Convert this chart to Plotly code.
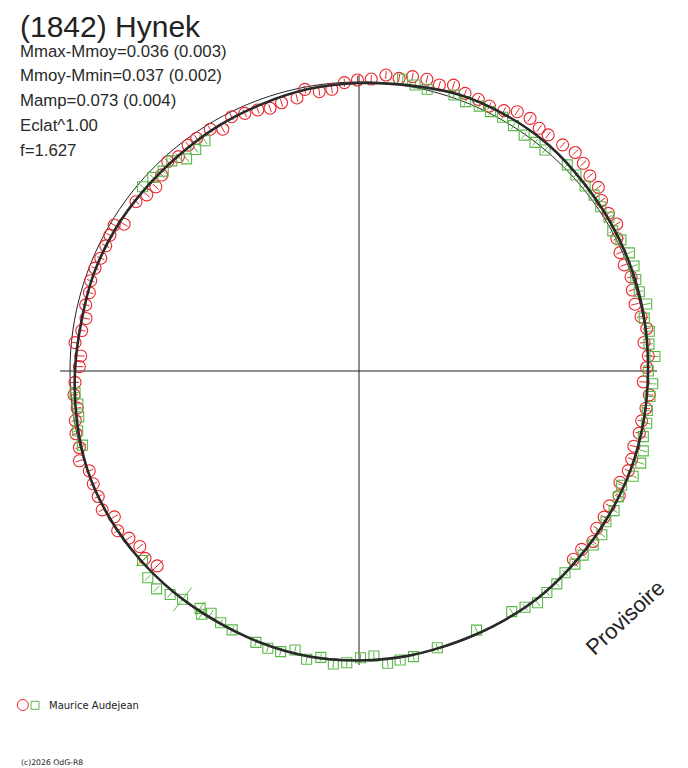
import plotly.graph_objects as go

# ---------------- data (phase in degrees clockwise from top, radius in plot units) ----------------
red_phase = [2.4, 5.2, 7.8, 10.3, 13.1, 15.7, 18.3, 20.9, 23.7, 26.2, 29.1, 31.4, 34.1, 36.6, 38.7,
             42.0, 44.7, 47.2, 49.8, 52.5, 54.9, 57.7, 60.3, 62.8, 65.6, 68.2, 70.9, 73.5, 76.4, 79.1,
             81.6, 84.3, 87.0, 89.3, 92.2, 94.7, 97.4, 100.0, 102.5, 105.3, 107.9, 110.3, 113.1, 115.6,
             118.3, 120.8, 123.5, 126.1, 128.7, 131.3,
             226.0, 228.8, 231.3, 234.0, 236.5, 239.2, 241.6, 244.3, 247.0, 249.7, 252.2, 254.7, 257.5,
             260.1, 262.5, 265.2, 267.7, 270.9, 273.1, 275.7, 278.3, 280.9, 283.6, 286.2, 288.6, 291.3,
             293.6, 296.3, 298.6, 300.8, 302.0, 307.2, 309.7, 312.2, 314.8, 317.6, 319.9, 322.9, 325.1,
             328.4, 330.6, 333.4, 336.1, 338.8, 341.3, 343.9, 347.2, 349.1, 351.9, 354.5, 357.1, 359.7]
red_r = [292.2, 297.2, 295.4, 299.2, 299.5, 297.1, 301.1, 297.2, 296.7, 295.3, 298.0, 303.8, 305.1, 302.3, 302.5,
         304.3, 307.4, 305.7, 302.3, 301.7, 296.5, 295.0, 296.7, 289.9, 286.6, 285.7, 287.9, 285.1, 284.0, 287.2,
         290.9, 286.4, 289.7, 287.7, 284.5, 291.3, 289.4, 287.0, 287.1, 285.0, 286.6, 287.2, 283.7, 288.6,
         284.4, 285.4, 285.0, 289.4, 285.3, 285.3,
         280.6, 284.4, 280.8, 284.4, 289.4, 284.8, 291.9, 289.4, 288.7, 287.6, 293.7, 289.9, 289.9,
         288.0, 284.2, 286.0, 284.2, 279.7, 278.7, 285.4, 280.2, 278.0, 281.2, 280.8, 283.1, 283.3,
         281.8, 282.5, 283.7, 285.0, 277.0, 280.0, 275.8, 274.2, 278.1, 283.6, 280.3, 283.2, 283.7,
         283.9, 277.5, 284.4, 281.8, 280.0, 277.4, 279.2, 280.0, 286.8, 282.1, 283.0, 288.7, 291.0]
red_err = [4, 4, 4, 4, 4, 4, 4, 4, 4, 4, 4, 4, 4, 4, 4,
           4, 4, 4, 4, 4, 4, 4, 4, 4, 4, 4, 4, 4, 4, 4,
           4, 4, 4, 4, 4, 4, 4, 4, 4, 4, 4, 4, 4, 4,
           4, 4, 4, 4, 4, 4,
           8, 5, 4, 4, 4, 4, 4, 4, 4, 4, 4, 4, 4,
           4, 4, 4, 4, 4, 4, 4, 4, 4, 4, 4, 4, 4,
           4, 4, 4, 4, 4, 4, 4, 4, 4, 4, 4, 4, 4,
           4, 4, 4, 4, 4, 4, 4, 4, 4, 4, 4, 4, 4]

green_phase = [8.5, 11.1, 13.6, 19.0, 21.6, 24.4, 26.9, 29.5, 32.2, 35.0, 37.6, 40.1, 45.3, 47.9, 50.7,
               53.2, 55.8, 58.4, 61.1, 63.4, 66.4, 69.1, 71.7, 74.2, 76.9, 79.5, 82.2, 84.7, 87.2, 90.0,
               92.5, 95.0, 97.8, 100.3, 103.0, 105.7, 108.1, 111.0, 113.5, 115.9, 118.7, 121.4, 124.0,
               126.6, 129.4, 131.8, 134.4, 137.1, 139.7, 142.4, 144.9, 147.6, 155.6, 164.2, 169.2, 171.9,
               174.4, 177.0, 179.7, 182.4, 185.0, 187.6, 190.3, 192.9, 195.6, 198.2, 200.8, 206.1, 208.8,
               211.4, 212.9, 213.8, 217.7, 220.2, 222.9, 225.6, 228.8, 255.0, 258.0, 260.7, 263.3, 265.6,
               310.4, 313.2, 315.6, 318.3, 320.9, 323.6, 326.2]
green_r = [295.0, 291.4, 289.9, 291.9, 289.7, 290.9, 290.8, 291.6, 290.0, 288.0, 288.6, 288.9, 293.0, 292.4, 292.1,
           293.6, 292.3, 293.5, 289.9, 292.9, 295.1, 294.4, 291.5, 291.3, 295.4, 290.1, 293.0, 291.2, 296.3, 289.3,
           294.0, 292.1, 291.0, 292.4, 291.8, 295.3, 296.4, 293.7, 286.4, 288.2, 290.8, 289.3, 292.9,
           291.8, 290.1, 289.7, 288.3, 290.6, 290.5, 292.6, 288.8, 285.0, 284.5, 287.6, 290.8, 291.9,
           293.7, 285.4, 286.7, 292.0, 294.1, 288.9, 293.0, 286.2, 291.4, 291.9, 290.3, 288.3, 287.2,
           283.9, 289.7, 285.6, 288.5, 292.6, 297.4, 295.6, 287.7, 286.4, 287.6, 284.0, 283.2, 284.8,
           284.2, 282.8, 279.8, 281.4, 273.4, 275.1, 277.0]
green_err = [4, 4, 4, 4, 4, 4, 4, 4, 4, 4, 4, 4, 4, 4, 4,
             4, 4, 4, 4, 4, 4, 4, 4, 4, 4, 4, 4, 4, 4, 4,
             4, 4, 4, 4, 4, 4, 4, 4, 4, 4, 4, 4, 4,
             4, 4, 4, 4, 4, 4, 4, 4, 4, 4, 4, 4, 4,
             4, 4, 4, 4, 4, 4, 4, 4, 4, 4, 4, 4, 4,
             4, 6, 8, 15, 4, 4, 4, 9, 4, 4, 4, 4, 4,
             4, 4, 4, 4, 4, 4, 4]

fit_phase = [0, 10, 20, 30, 40, 50, 60, 70, 80, 90, 100, 110, 120, 130, 140, 150, 160, 170, 180,
             190, 200, 210, 220, 230, 240, 250, 260, 270, 280, 290, 300, 310, 320, 330, 340, 350, 360]
fit_r = [288, 290, 294, 295, 295, 293, 292, 291, 290, 289, 289, 289, 288.5, 288.5, 289, 288.5, 288, 289, 289.5,
         290, 289, 288, 288.5, 289, 289.5, 289, 286.5, 284, 282, 282.5, 282, 281, 281, 282.5, 284, 286.5, 288]

ref_radius = 289            # mean-brightness reference circle
title_text = "(1842) Hynek"
stats_lines = ["Mmax-Mmoy=0.036 (0.003)", "Mmoy-Mmin=0.037 (0.002)", "Mamp=0.073 (0.004)",
               "Eclat^1.00", "f=1.627"]
observer = "Maurice Audejean"
copyright_text = "(c)2026 OdG-R8"
watermark = "Provisoire"

# ---------------- geometry ----------------
# the page body has an 8px margin: the figure is 680x760 placed at (8, 8) in the 688x768 window
OFF = 8
W, H = 680, 760
CX, CY = 359, 371        # centre in window px from top-left
RMAX = 320               # radial range (1 unit = 1 px)

RED = "#e8262b"
GREEN = "#58b846"
INK = "#222222"


def px(x):
    return (x - OFF) / W


def py(y):
    return 1 - (y - OFF) / H


def err_segments(phases, rs, errs):
    th, rr = [], []
    for p, r, e in zip(phases, rs, errs):
        th += [p, p, None]
        rr += [r - e, r + e, None]
    return th, rr


fig = go.Figure()

# crosshair axes
fig.add_trace(go.Scatterpolar(r=[299, 0, 298], theta=[270, 270, 90], mode="lines",
                              line=dict(color=INK, width=1), hoverinfo="skip", showlegend=False))
fig.add_trace(go.Scatterpolar(r=[296, 0, 294], theta=[0, 0, 180], mode="lines",
                              line=dict(color=INK, width=1), hoverinfo="skip", showlegend=False))

# reference circle
ref_theta = list(range(0, 361, 2))
fig.add_trace(go.Scatterpolar(r=[ref_radius] * len(ref_theta), theta=ref_theta, mode="lines",
                              line=dict(color=INK, width=1), hoverinfo="skip", showlegend=False))

# error bars
th, rr = err_segments(red_phase, red_r, red_err)
fig.add_trace(go.Scatterpolar(r=rr, theta=th, mode="lines", line=dict(color=RED, width=1),
                              connectgaps=False, cliponaxis=False, showlegend=False, hoverinfo="skip"))
th, rr = err_segments(green_phase, green_r, green_err)
fig.add_trace(go.Scatterpolar(r=rr, theta=th, mode="lines", line=dict(color=GREEN, width=1),
                              connectgaps=False, cliponaxis=False, showlegend=False, hoverinfo="skip"))

# markers
fig.add_trace(go.Scatterpolar(r=red_r, theta=red_phase, mode="markers", cliponaxis=False,
                              marker=dict(symbol="circle-open", size=12, color=RED, line=dict(width=1.1)),
                              showlegend=False))
fig.add_trace(go.Scatterpolar(r=green_r, theta=green_phase, mode="markers", cliponaxis=False,
                              marker=dict(symbol="square-open", size=10, color=GREEN, line=dict(width=1.1)),
                              showlegend=False))

# fitted light curve
fig.add_trace(go.Scatterpolar(r=fit_r, theta=fit_phase, mode="lines",
                              line=dict(color="#2a2a2a", width=2.6, shape="spline"),
                              cliponaxis=False, showlegend=False, hoverinfo="skip"))

# ---------------- layout ----------------
dom_x = [px(CX - RMAX), px(CX + RMAX)]
dom_y = [py(CY + RMAX), py(CY - RMAX)]

hidden = dict(visible=False, showgrid=False, showline=False, showticklabels=False, ticks="")

annotations = [
    dict(text=title_text, x=px(18), y=py(8.5), xref="paper", yref="paper", xanchor="left",
         yanchor="top", showarrow=False, font=dict(family="Liberation Sans, Arial", size=30, color=INK)),
]
for i, line in enumerate(stats_lines):
    yc = 51 + i * 24.8
    annotations.append(dict(text=line, x=px(18), y=py(yc), xref="paper", yref="paper",
                            xanchor="left", yanchor="middle", showarrow=False,
                            font=dict(family="Liberation Sans, Arial", size=16.8, color="#2a2a2a")))
annotations.append(dict(text=observer, x=px(47), y=py(705.8), xref="paper", yref="paper",
                        xanchor="left", yanchor="middle", showarrow=False,
                        font=dict(family="DejaVu Sans", size=10, color=INK)))
annotations.append(dict(text=copyright_text, x=px(19), y=py(762.5), xref="paper", yref="paper",
                        xanchor="left", yanchor="middle", showarrow=False,
                        font=dict(family="DejaVu Sans", size=7.7, color=INK)))
annotations.append(dict(text=watermark, x=px(625), y=py(617), xref="paper", yref="paper",
                        xanchor="center", yanchor="middle", showarrow=False, textangle=-43,
                        font=dict(family="Liberation Sans, Arial", size=22, color=INK)))

shapes = [
    dict(type="circle", xref="paper", yref="paper", x0=px(17.3), x1=px(28.3),
         y0=py(710.5), y1=py(699.5), line=dict(color=RED, width=1)),
    dict(type="rect", xref="paper", yref="paper", x0=px(31), x1=px(39),
         y0=py(709.3), y1=py(701.3), line=dict(color=GREEN, width=1)),
]

fig.update_layout(
    width=W, height=H, margin=dict(l=0, r=0, t=0, b=0),
    paper_bgcolor="white", plot_bgcolor="white",
    polar=dict(domain=dict(x=dom_x, y=dom_y), bgcolor="rgba(0,0,0,0)",
               radialaxis=dict(range=[0, RMAX], **hidden),
               angularaxis=dict(rotation=90, direction="clockwise", **hidden)),
    annotations=annotations, shapes=shapes, showlegend=False,
)

fig.write_html("out.html")
